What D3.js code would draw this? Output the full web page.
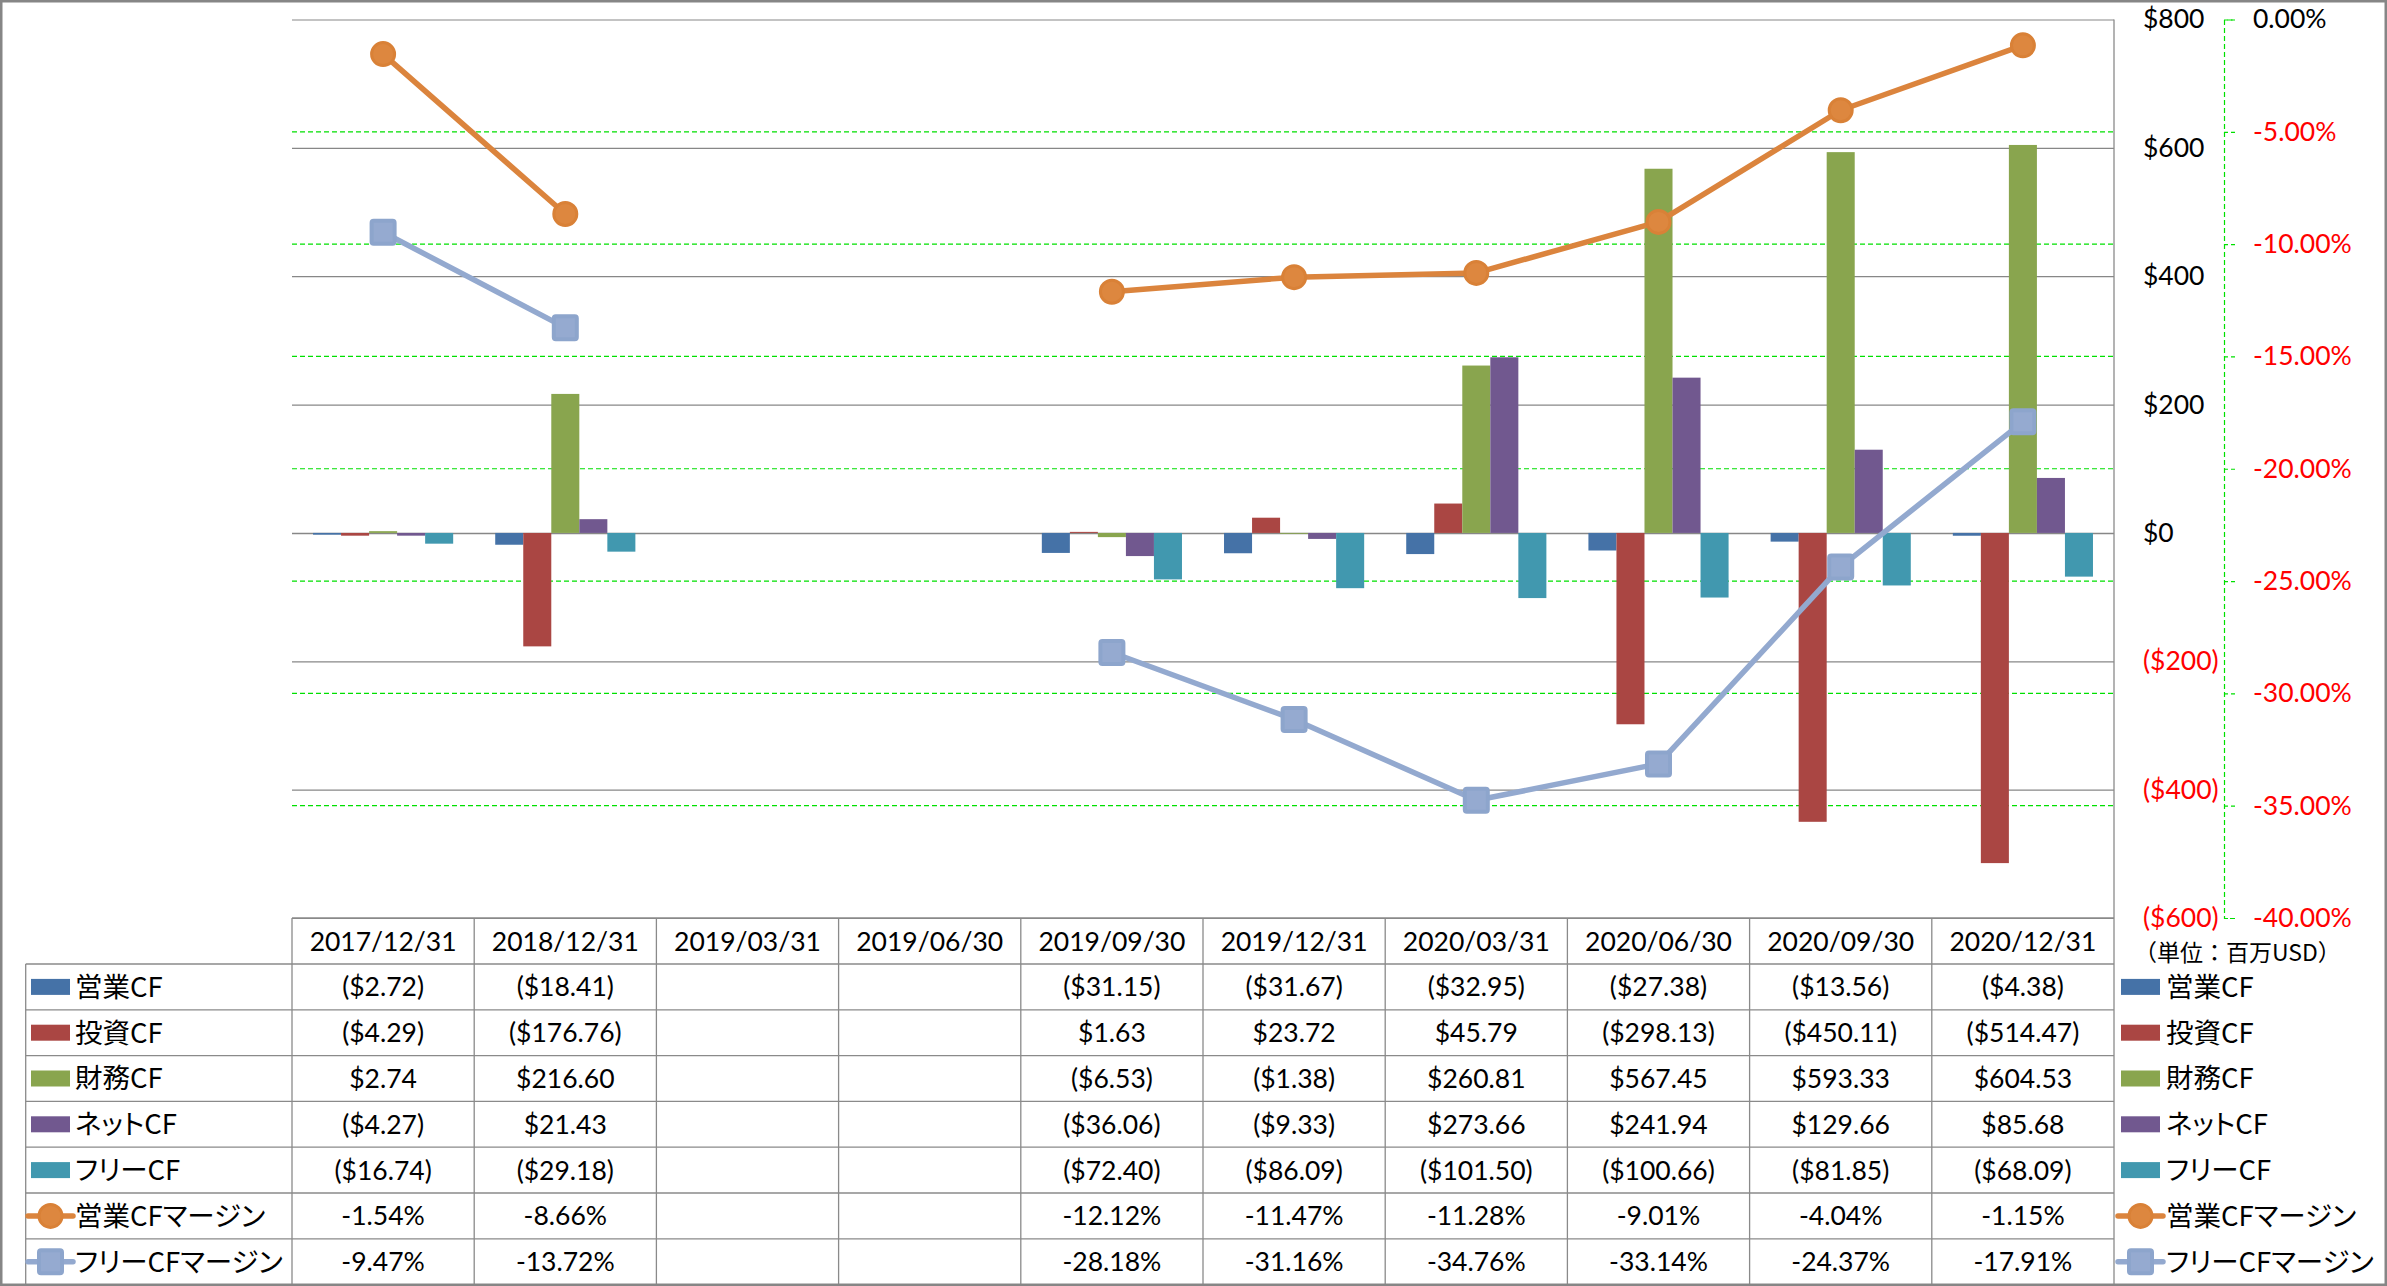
<!DOCTYPE html>
<html><head><meta charset="utf-8">
<script src="https://cdn.jsdelivr.net/npm/d3@7"></script>
<style>
html,body{margin:0;padding:0;background:#fff;}
svg{display:block;}
.num{font-family:Lato,"Liberation Sans",sans-serif;}
.jp{font-family:"Noto Sans CJK JP",sans-serif;font-feature-settings:"palt";}
.jpw{font-family:"Noto Sans CJK JP",sans-serif;}
</style></head><body>
<svg id="c" width="2387" height="1286"></svg>
<script>
// ---------- DATA ----------
const categories = ["2017/12/31","2018/12/31","2019/03/31","2019/06/30","2019/09/30","2019/12/31","2020/03/31","2020/06/30","2020/09/30","2020/12/31"];
const operatingCF = [-2.72, -18.41, null, null, -31.15, -31.67, -32.95, -27.38, -13.56, -4.38];
const investingCF = [-4.29, -176.76, null, null, 1.63, 23.72, 45.79, -298.13, -450.11, -514.47];
const financingCF = [2.74, 216.60, null, null, -6.53, -1.38, 260.81, 567.45, 593.33, 604.53];
const netCF = [-4.27, 21.43, null, null, -36.06, -9.33, 273.66, 241.94, 129.66, 85.68];
const freeCF = [-16.74, -29.18, null, null, -72.40, -86.09, -101.50, -100.66, -81.85, -68.09];
const operatingMargin = [-1.54, -8.66, null, null, -12.12, -11.47, -11.28, -9.01, -4.04, -1.15];
const freeMargin = [-9.47, -13.72, null, null, -28.18, -31.16, -34.76, -33.14, -24.37, -17.91];
const barSeriesNames = ["営業CF","投資CF","財務CF","ネットCF","フリーCF"];
const lineSeriesNames = ["営業CFマージン","フリーCFマージン"];
const dollarTicks = [-600,-400,-200,0,200,400,600,800];
const pctTicks = [-40,-35,-30,-25,-20,-15,-10,-5,0];
const unitLabel = "（単位：百万USD）";

// ---------- STYLE ----------
const barColors = ["#4572A7","#AA4643","#89A54E","#71588F","#4198AF"];
const lineColors = ["#DB843D","#93A9CF"];
const gridGray = "#878787";
const green = "#00e000";
const fontNum = 26.5;

const barData = [operatingCF, investingCF, financingCF, netCF, freeCF];
const lineData = [operatingMargin, freeMargin];

const svg = d3.select("#c");
const W = 2387, H = 1286;
const plotL = 292, plotR = 2114, plotT = 19.5, plotB = 918;
const rowTop = 964, rowH = 45.8, tableLeft = 25.7;

const x = d3.scaleBand().domain(categories).range([plotL, plotR]);
const xs = d3.scaleBand().domain(d3.range(barSeriesNames.length)).range([0, x.bandwidth()]).paddingOuter(0.75);
const y = d3.scaleLinear().domain([-600, 800]).range([plotB, plotT]);
const yp = d3.scaleLinear().domain([-40, 0]).range([plotB, plotT]);

svg.append("rect").attr("width", W).attr("height", H).attr("fill", "#fff");

// green percent gridlines
svg.append("g").selectAll("line").data(pctTicks.filter(t => t > -40 && t < 0)).join("line")
  .attr("x1", plotL).attr("x2", plotR).attr("y1", d => yp(d)).attr("y2", d => yp(d))
  .attr("stroke", green).attr("stroke-width", 1.2).attr("stroke-dasharray", "5,3");

// gray dollar gridlines
const gGrid = svg.append("g").attr("transform", `translate(${plotL},0)`)
  .call(d3.axisLeft(y).tickValues(dollarTicks).tickSize(-(plotR - plotL)).tickFormat(""));
gGrid.select(".domain").remove();
gGrid.selectAll(".tick line").attr("stroke", gridGray).attr("stroke-width", d => d === 0 ? 1.6 : 1.2);

// bars
const gBars = svg.append("g");
barData.forEach((arr, i) => {
  gBars.append("g").selectAll("rect")
    .data(arr.map((v, j) => ({v, c: categories[j]})).filter(d => d.v != null))
    .join("rect")
    .attr("x", d => x(d.c) + xs(i))
    .attr("width", xs.bandwidth())
    .attr("y", d => y(Math.max(0, d.v)))
    .attr("height", d => Math.abs(y(d.v) - y(0)))
    .attr("fill", barColors[i]);
});

// lines
const cx = c => x(c) + x.bandwidth() / 2;
lineData.forEach((arr, i) => {
  const pts = arr.map((v, j) => ({v, c: categories[j]}));
  svg.append("path").datum(pts)
    .attr("d", d3.line().defined(d => d.v != null).x(d => cx(d.c)).y(d => yp(d.v)))
    .attr("fill", "none").attr("stroke", lineColors[i]).attr("stroke-width", 5.5)
    .attr("stroke-linejoin", "round");
});
function marker(g, kind, px, py) {
  if (kind === 0) {
    g.append("circle").attr("cx", px).attr("cy", py).attr("r", 11.5)
      .attr("fill", "#DD873F").attr("stroke", "#D98137").attr("stroke-width", 3);
  } else {
    g.append("rect").attr("x", px - 11.5).attr("y", py - 11.5).attr("width", 23).attr("height", 23)
      .attr("rx", 2).attr("fill", "#95AAD0").attr("stroke", "#8DA5CC").attr("stroke-width", 4);
  }
}
const gMarks = svg.append("g");
lineData.forEach((arr, i) => {
  arr.forEach((v, j) => { if (v != null) marker(gMarks, i, cx(categories[j]), yp(v)); });
});

// dollar axis labels
const gDol = svg.append("g").attr("transform", `translate(${plotR},0)`)
  .call(d3.axisRight(y).tickValues(dollarTicks).tickSize(0).tickPadding(29)
    .tickFormat(d => d < 0 ? `($${-d})` : `$${d}`));
gDol.select(".domain").remove();
gDol.selectAll("text").attr("class", "num").attr("font-size", fontNum)
  .attr("fill", d => d < 0 ? "#ff0000" : "#000");

// percent axis
const gPct = svg.append("g").attr("transform", "translate(2224,0)")
  .call(d3.axisRight(yp).tickValues(pctTicks).tickSize(11).tickSizeOuter(11).tickPadding(18)
    .tickFormat(d => d.toFixed(2) + "%"));
gPct.select(".domain").attr("stroke", green).attr("stroke-width", 1.2).attr("stroke-dasharray", "5,3");
gPct.selectAll(".tick line").attr("stroke", green).attr("stroke-width", 1.2).attr("stroke-dasharray", "4,3");
gPct.selectAll("text").attr("class", "num").attr("font-size", fontNum)
  .attr("fill", d => d < 0 ? "#ff0000" : "#000");

// unit label
svg.append("text").attr("class", "jpw").attr("x", 2134).attr("y", 953).attr("dy", "0.36em")
  .attr("font-size", 23).attr("fill", "#000").text(unitLabel);

// ---------- DATA TABLE ----------
const gT = svg.append("g");
const border = "#8a8a8a";
const rowCount = barSeriesNames.length + lineSeriesNames.length;
const tableBottom = rowTop + rowCount * rowH;
gT.append("line").attr("x1", plotL).attr("x2", plotR).attr("y1", plotB).attr("y2", plotB)
  .attr("stroke", border).attr("stroke-width", 1.3);
d3.range(rowCount + 1).forEach(r => {
  gT.append("line").attr("x1", tableLeft).attr("x2", plotR)
    .attr("y1", rowTop + r * rowH).attr("y2", rowTop + r * rowH)
    .attr("stroke", border).attr("stroke-width", 1.3);
});
categories.forEach(c => {
  gT.append("line").attr("x1", x(c)).attr("x2", x(c)).attr("y1", plotB).attr("y2", tableBottom)
    .attr("stroke", border).attr("stroke-width", 1.3);
});
gT.append("line").attr("x1", plotR).attr("x2", plotR).attr("y1", plotT).attr("y2", tableBottom)
  .attr("stroke", border).attr("stroke-width", 1.3);
gT.append("line").attr("x1", tableLeft).attr("x2", tableLeft).attr("y1", rowTop).attr("y2", tableBottom)
  .attr("stroke", border).attr("stroke-width", 1.3);

gT.selectAll("text.hdr").data(categories).join("text")
  .attr("class", "num hdr").attr("x", d => cx(d)).attr("y", (plotB + rowTop) / 2).attr("dy", "0.36em")
  .attr("text-anchor", "middle").attr("font-size", fontNum).attr("fill", "#000").text(d => d);

const fmtDol = v => v < 0 ? `($${(-v).toFixed(2)})` : `$${v.toFixed(2)}`;
const fmtPct = v => v.toFixed(2) + "%";
const allRows = barData.map(a => ({vals: a, fmt: fmtDol})).concat(lineData.map(a => ({vals: a, fmt: fmtPct})));
allRows.forEach((row, r) => {
  const yc = rowTop + r * rowH + rowH / 2;
  row.vals.forEach((v, j) => {
    if (v == null) return;
    gT.append("text").attr("class", "num").attr("x", cx(categories[j])).attr("y", yc).attr("dy", "0.36em")
      .attr("text-anchor", "middle").attr("font-size", fontNum).attr("fill", "#000").text(row.fmt(v));
  });
});

const allNames = barSeriesNames.concat(lineSeriesNames);
function legendKey(g, r, keyX, textX) {
  const yc = rowTop + r * rowH + rowH / 2;
  if (r < barSeriesNames.length) {
    g.append("rect").attr("x", keyX + 3).attr("y", yc - 8).attr("width", 39).attr("height", 16).attr("fill", barColors[r]);
  } else {
    const li = r - barSeriesNames.length;
    g.append("line").attr("x1", keyX).attr("x2", keyX + 45).attr("y1", yc).attr("y2", yc)
      .attr("stroke", lineColors[li]).attr("stroke-width", 5.5).attr("stroke-linecap", "round");
    marker(g, li, keyX + 22.5, yc);
  }
  g.append("text").attr("class", "jp").attr("x", textX).attr("y", yc).attr("dy", "0.36em")
    .attr("font-size", 27.5).attr("fill", "#000").text(allNames[r]);
}
allNames.forEach((n, r) => {
  legendKey(gT, r, 28, 75);
  legendKey(gT, r, 2118, 2166);
});

svg.append("rect").attr("x", 1.25).attr("y", 1.25).attr("width", W - 2.5).attr("height", H - 2.5)
  .attr("fill", "none").attr("stroke", "#868686").attr("stroke-width", 2.5);
</script>
</body></html>
